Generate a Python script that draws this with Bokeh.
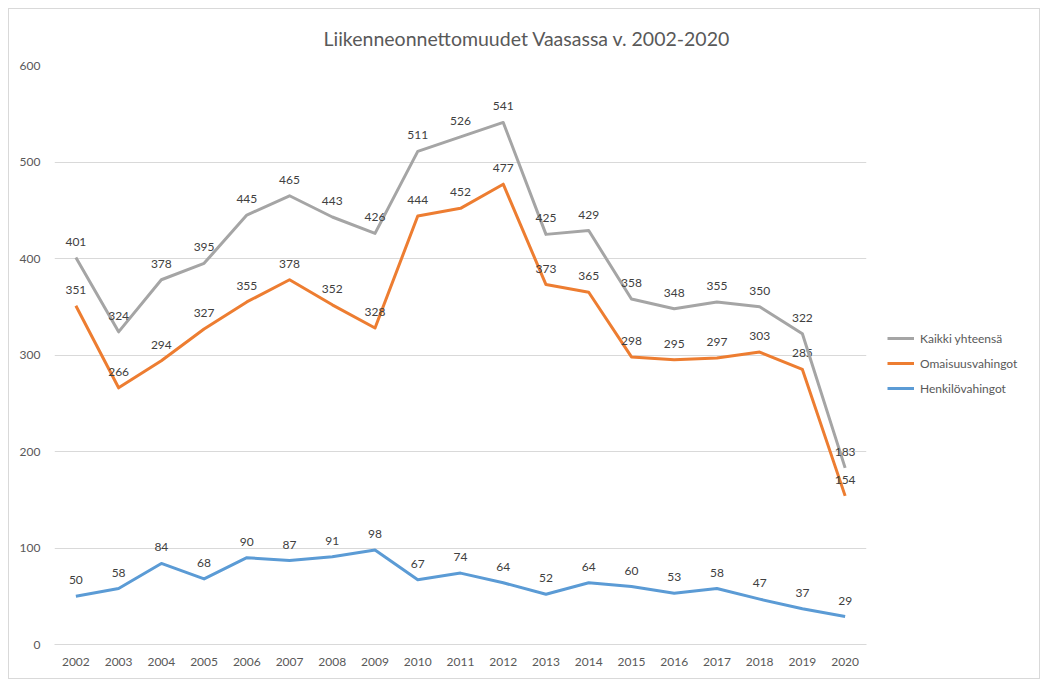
from bokeh.plotting import figure
from bokeh.models import Range1d, FixedTicker, Legend, LegendItem, ColumnDataSource, FactorRange
from bokeh.core.properties import value
from bokeh.embed import file_html
from bokeh.resources import INLINE

years = [str(y) for y in range(2002, 2021)]
kaikki = [401, 324, 378, 395, 445, 465, 443, 426, 511, 526, 541, 425, 429, 358, 348, 355, 350, 322, 183]
omaisuus = [351, 266, 294, 327, 355, 378, 352, 328, 444, 452, 477, 373, 365, 298, 295, 297, 303, 285, 154]
henkilo = [50, 58, 84, 68, 90, 87, 91, 98, 67, 74, 64, 52, 64, 60, 53, 58, 47, 37, 29]
y_ticks = [0, 100, 200, 300, 400, 500, 600]

names = ["Kaikki yhteensä", "Omaisuusvahingot", "Henkilövahingot"]
colors = ["#a5a5a5", "#ed7d31", "#5b9bd5"]
series = [kaikki, omaisuus, henkilo]

FONT = "Lato"

p = figure(width=1030, height=670, frame_width=812, frame_height=579,
           x_range=FactorRange(factors=years),
           y_range=Range1d(0, 600), output_backend="svg", toolbar_location=None,
           min_border_left=45, min_border_right=173, min_border_top=56, min_border_bottom=34)
p.styles = {"border": "1px solid #d9d9d9", "margin-left": "8px", "margin-top": "8px",
            "max-width": "1032px", "max-height": "672px", "overflow": "hidden",
            "box-sizing": "border-box"}
p.outline_line_color = None

p.title.text = "Liikenneonnettomuudet Vaasassa v. 2002-2020"
p.title.text_font = FONT
p.title.text_font_size = "19.5px"
p.title.text_font_style = "normal"
p.title.text_color = "#595959"
p.title.text_line_height = 1.0
p.title.align = "left"
p.title.offset = 269
p.title.standoff = 31

p.xgrid.grid_line_color = None
p.ygrid.grid_line_color = "#d9d9d9"
p.ygrid.grid_line_width = 1
p.yaxis.ticker = FixedTicker(ticks=y_ticks)
p.yaxis.axis_line_color = None
p.yaxis.major_tick_line_color = None
p.yaxis.minor_tick_line_color = None
p.yaxis.major_label_standoff = 8
p.xaxis.axis_line_color = "#d9d9d9"
p.xaxis.major_tick_line_color = None
p.xaxis.minor_tick_line_color = None
p.xaxis.major_label_standoff = 7
for ax in (p.xaxis, p.yaxis):
    ax.major_label_text_font = FONT
    ax.major_label_text_font_size = "12px"
    ax.major_label_text_color = "#595959"

items = []
for name, col, vals in list(zip(names, colors, series))[::-1]:
    src = ColumnDataSource(dict(x=years, y=vals, t=[str(v) for v in vals]))
    r = p.line("x", "y", source=src, line_color=col, line_width=3, line_join="round")
    p.text("x", "y", text="t", source=src, text_font=value(FONT), text_font_size="12px",
           text_color="#404040", text_align="center", text_baseline="middle", y_offset=-16)
    items.append(LegendItem(label=name, renderers=[r]))

legend = Legend(items=items[::-1], location=(21, 246), orientation="vertical")
legend.border_line_color = None
legend.background_fill_alpha = 0
legend.padding = 8
legend.margin = 0
legend.spacing = 5
legend.glyph_width = 27
legend.glyph_height = 20
legend.label_standoff = 6
legend.label_text_font = FONT
legend.label_text_font_size = "12px"
legend.label_text_color = "#595959"
p.add_layout(legend, "right")

open("out.html", "w").write(file_html(p, INLINE))
